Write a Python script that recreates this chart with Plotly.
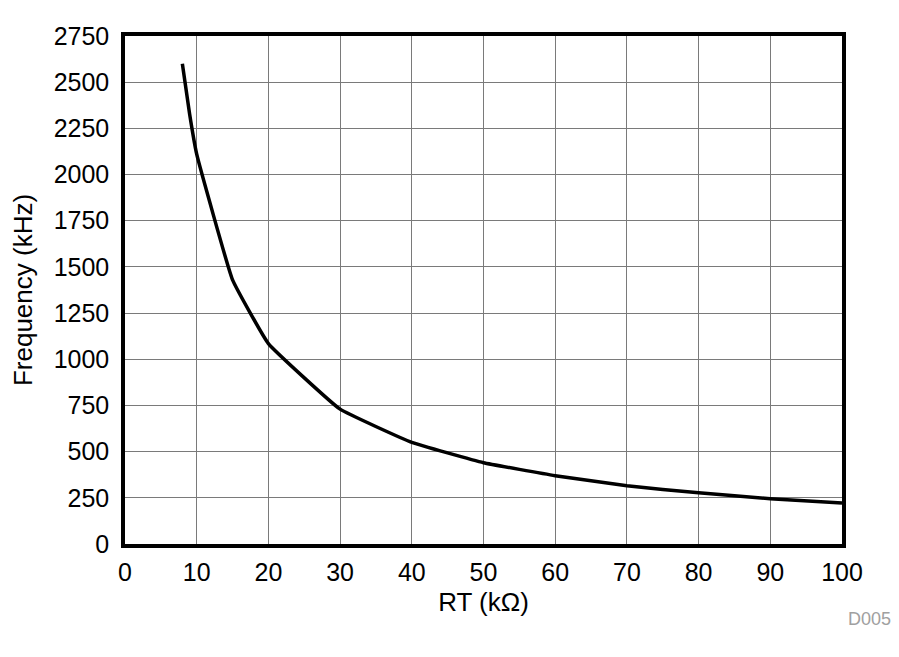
import plotly.graph_objects as go

rt_kohm = [8, 9, 10, 15, 20, 30, 40, 50, 60, 70, 80, 90, 100]
freq_khz = [2600, 2330, 2110, 1430, 1085, 730, 550, 440, 370, 315, 277, 245, 222]

x_ticks = list(range(0, 101, 10))
y_ticks = list(range(0, 2751, 250))

fig = go.Figure()
fig.add_trace(go.Scatter(x=rt_kohm, y=freq_khz, mode="lines",
                         line=dict(color="black", width=3.5, shape="spline", smoothing=0.3),
                         showlegend=False))

fam = "Liberation Sans, Arial, sans-serif"
tickfont = dict(family=fam, size=25, color="black")
titlefont = dict(family=fam, size=26, color="black")
fig.update_layout(
    width=899, height=657,
    margin=dict(l=117, r=65, t=28, b=121),
    plot_bgcolor="white", paper_bgcolor="white",
    font=tickfont,
    xaxis=dict(range=[0, 100], tickvals=x_ticks, showgrid=True, gridcolor="#7a7a7a", gridwidth=1,
               showline=True, linecolor="black", linewidth=3.5, mirror=True, zeroline=False,
               ticks="outside", ticklen=3, tickcolor="rgba(0,0,0,0)", automargin=False,
               title=dict(text="RT (kΩ)", font=titlefont, standoff=9), tickfont=tickfont),
    yaxis=dict(range=[0, 2750], tickvals=y_ticks, showgrid=True, gridcolor="#7a7a7a", gridwidth=1,
               showline=True, linecolor="black", linewidth=3.5, mirror=True, zeroline=False,
               ticks="outside", ticklen=7, tickcolor="rgba(0,0,0,0)", automargin=False,
               title=dict(text="Frequency (kHz)", font=titlefont, standoff=15), tickfont=tickfont),
    annotations=[dict(text="D005", x=1.071, y=-0.147, xref="paper", yref="paper",
                      xanchor="right", yanchor="middle", showarrow=False,
                      font=dict(family=fam, size=18, color="#a0a0a0"))],
)
fig.write_html("out.html")
